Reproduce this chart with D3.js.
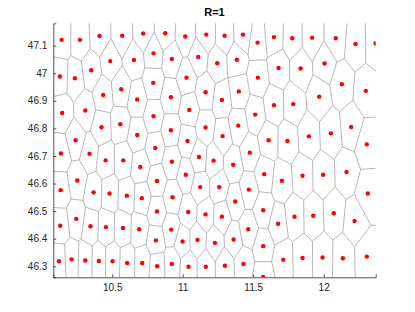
<!DOCTYPE html>
<html>
<head>
<meta charset="utf-8">
<script src="https://cdn.jsdelivr.net/npm/d3@7"></script>
<style>
  body { margin: 0; background: #fff; }
  .tick text { font-family: "Liberation Sans", Arial, sans-serif; font-size: 10px; fill: #262626; }
</style>
</head>
<body>
<div id="vis"></div>
<script>
// station longitudes / latitudes
var lon = [
  10.141, 10.271, 10.410, 10.571, 10.720, 10.876, 11.018, 11.167, 11.297, 11.427, 11.531, 11.647, 11.777, 11.918, 12.086, 12.226, 12.368,
  10.793, 11.110, 10.923, 11.384, 10.654, 10.486, 11.245, 12.006, 11.680, 11.836, 10.351,
  10.129, 11.027, 11.533, 10.235, 10.791, 12.129,
  10.564, 12.299, 11.398, 11.162, 10.436, 11.968, 10.916, 10.677, 11.278,
  11.784, 11.647, 10.309, 11.046, 10.145, 11.514, 10.793,
  10.557, 11.394, 12.195, 10.424, 11.162, 10.916, 12.051, 10.677, 11.283, 11.895, 10.240, 11.609, 11.743, 11.034, 12.306,
  10.805, 11.476, 10.136, 10.339, 11.115, 10.453, 10.578, 11.219, 10.923,
  11.358, 10.699, 11.578, 11.022, 11.850, 11.996, 12.162,
  10.252, 11.703, 10.817, 11.124, 11.259, 10.134, 11.469, 10.368, 10.481, 10.604, 12.313, 10.710, 10.928, 11.372,
  11.571, 10.817, 11.039, 11.162, 12.072, 11.926, 11.793, 11.278, 10.245, 12.219, 11.677, 10.131, 10.346, 10.455, 10.576, 10.691, 10.918, 11.465,
  10.810, 10.999, 11.105, 11.228, 11.361, 11.571,
  12.306, 11.992, 11.850, 12.136, 11.713, 10.212, 10.309, 10.122, 10.405, 10.502, 10.606, 10.713, 10.923, 10.819, 11.041, 11.164, 11.299, 11.431, 11.571
];
var lat = [
  47.121, 47.121, 47.135, 47.136, 47.144, 47.145, 47.133, 47.140, 47.136, 47.140, 47.111, 47.131, 47.127, 47.129, 47.127, 47.106, 47.108,
  47.072, 47.059, 47.052, 47.049, 47.048, 47.044, 47.036, 47.035, 47.019, 47.017, 47.011,
  46.988, 46.984, 46.984, 46.982, 46.965, 46.960,
  46.942, 46.936, 46.934, 46.931, 46.921, 46.915, 46.913, 46.905, 46.903,
  46.888, 46.884, 46.865, 46.867, 46.856, 46.850, 46.844,
  46.815, 46.810, 46.805, 46.804, 46.803, 46.793, 46.782, 46.776, 46.772, 46.771, 46.757, 46.757, 46.754, 46.754, 46.742,
  46.729, 46.712, 46.709, 46.708, 46.696, 46.684, 46.684, 46.683, 46.679,
  46.668, 46.660, 46.634, 46.632, 46.628, 46.632, 46.642,
  46.611, 46.610, 46.609, 46.587, 46.587, 46.576, 46.578, 46.568, 46.564, 46.556, 46.564, 46.547, 46.550, 46.535,
  46.503, 46.499, 46.497, 46.488, 46.492, 46.483, 46.480, 46.480, 46.472, 46.464, 46.454, 46.447, 46.445, 46.442, 46.439, 46.434, 46.433, 46.434,
  46.394, 46.390, 46.395, 46.385, 46.397, 46.373,
  46.335, 46.332, 46.330, 46.329, 46.324, 46.325, 46.321, 46.318, 46.319, 46.318, 46.312, 46.312, 46.308, 46.300, 46.298, 46.298, 46.302, 46.308, 46.261
];
var xTicks = [10.5, 11, 11.5, 12];
var yTicks = [46.3, 46.4, 46.5, 46.6, 46.7, 46.8, 46.9, 47, 47.1];
var xLimits = [10.082, 12.369];
var yLimits = [46.26, 47.181];

var width = 415, height = 312;
var margin = {top: 23.3, right: 39.3, bottom: 34.7, left: 53.3};
var w = width - margin.left - margin.right;
var h = height - margin.top - margin.bottom;

var svg = d3.select("#vis").append("svg")
    .attr("width", width)
    .attr("height", height);

var g = svg.append("g").attr("transform", "translate(" + margin.left + "," + margin.top + ")");

var x = d3.scaleLinear().domain(xLimits).range([0, w]);
var y = d3.scaleLinear().domain(yLimits).range([h, 0]);

var pts = lon.map(function(d, i) { return [d, lat[i]]; });

g.append("clipPath").attr("id", "plotclip")
  .append("rect").attr("width", w).attr("height", h);

// voronoi is computed in data space, then drawn through the scales
var delaunay = d3.Delaunay.from(pts);
var vor = delaunay.voronoi([xLimits[0] - 1, yLimits[0] - 1, xLimits[1] + 1, yLimits[1] + 1]);
var ctx = {
  s: "",
  moveTo: function(a, b) { this.s += "M" + x(a) + "," + y(b); },
  lineTo: function(a, b) { this.s += "L" + x(a) + "," + y(b); },
  closePath: function() { this.s += "Z"; }
};
vor.render(ctx);

g.append("path")
    .attr("clip-path", "url(#plotclip)")
    .attr("d", ctx.s)
    .attr("fill", "none")
    .attr("stroke", "#9a9a9a")
    .attr("stroke-width", 0.7);

g.append("g").attr("clip-path", "url(#plotclip)")
  .selectAll("circle")
  .data(pts)
  .enter().append("circle")
    .attr("cx", function(d) { return x(d[0]); })
    .attr("cy", function(d) { return y(d[1]); })
    .attr("r", 2.2)
    .attr("fill", "#ff0000");

// axes
var xAxis = g.append("g")
    .attr("transform", "translate(0," + h + ")")
    .call(d3.axisBottom(x).tickValues(xTicks).tickSize(-3).tickPadding(7).tickFormat(d3.format("")));
var yAxis = g.append("g")
    .call(d3.axisLeft(y).tickValues(yTicks).tickSize(-3).tickPadding(6).tickFormat(d3.format("")));

[xAxis, yAxis].forEach(function(a) {
  a.select(".domain").attr("stroke", "#262626").attr("stroke-width", 0.8);
  a.selectAll(".tick line").attr("stroke", "#262626").attr("stroke-width", 0.8);
});

// title
svg.append("text")
    .attr("x", margin.left + w / 2)
    .attr("y", 16)
    .attr("text-anchor", "middle")
    .style("font-family", "Liberation Sans, Arial, sans-serif")
    .style("font-size", "11px")
    .style("font-weight", "bold")
    .attr("fill", "#000")
    .text("R=1");
</script>
</body>
</html>
